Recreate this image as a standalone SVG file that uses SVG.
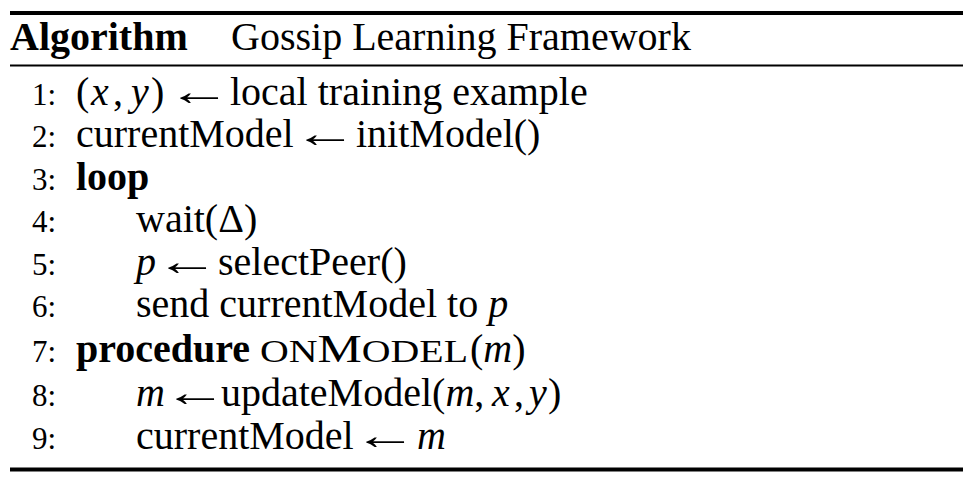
<svg xmlns="http://www.w3.org/2000/svg" width="975" height="481" viewBox="0 0 975 481">
<style>
text { font-family: "Liberation Serif", "Times New Roman", serif; font-size: 40px; fill: #000; }
.num { font-size: 31px; text-anchor: end; }
.b { font-weight: bold; }
.i { font-style: italic; }
.sc { font-size: 32px; }
.arr { font-family: "Liberation Serif", "DejaVu Serif", serif; font-size: 40px; }
.rule { stroke: #000; }
</style>
<rect width="975" height="481" fill="#fff"/>
<g id="rules">
  <line class="rule" x1="10" y1="13" x2="963" y2="13" stroke-width="4"/>
  <line class="rule" x1="10" y1="65.5" x2="963" y2="65.5" stroke-width="2"/>
  <line class="rule" x1="10" y1="469.5" x2="963" y2="469.5" stroke-width="4"/>
</g>
<g id="header">
  <text x="10" y="50" class="b">Algorithm</text>
  <text x="231" y="50">Gossip Learning Framework</text>
</g>
<g id="line1">
  <text class="num" x="56" y="105">1:</text>
  <text x="76" y="105">(<tspan x="91" class="i">x</tspan><tspan x="113">,</tspan><tspan x="131" class="i">y</tspan><tspan x="151">)</tspan></text>
  <text class="arr" transform="translate(167,105) scale(1.6,1)">←</text>
  <text x="230" y="105">local training example</text>
</g>
<g id="line2">
  <text class="num" x="56" y="147">2:</text>
  <text x="76" y="147">currentModel</text>
  <text class="arr" transform="translate(293,147) scale(1.6,1)">←</text>
  <text x="356" y="147">initModel()</text>
</g>
<g id="line3">
  <text class="num" x="56" y="190">3:</text>
  <text x="76" y="190" class="b">loop</text>
</g>
<g id="line4">
  <text class="num" x="56" y="232">4:</text>
  <text x="136" y="232">wait(Δ)</text>
</g>
<g id="line5">
  <text class="num" x="56" y="275">5:</text>
  <text x="136" y="275" class="i">p</text>
  <text class="arr" transform="translate(155,275) scale(1.6,1)">←</text>
  <text x="218" y="275">selectPeer()</text>
</g>
<g id="line6">
  <text class="num" x="56" y="317">6:</text>
  <text x="136" y="317">send currentModel to <tspan class="i">p</tspan></text>
</g>
<g id="line7">
  <text class="num" x="56" y="362">7:</text>
  <text x="76" y="362" class="b">procedure</text>
  <text x="260" y="362" textLength="208" lengthAdjust="spacingAndGlyphs"><tspan class="sc">ON</tspan>M<tspan class="sc">ODEL</tspan></text>
  <text x="470" y="362">(<tspan class="i">m</tspan>)</text>
</g>
<g id="line8">
  <text class="num" x="56" y="406">8:</text>
  <text x="136" y="406" class="i">m</text>
  <text class="arr" transform="translate(163,406) scale(1.6,1)">←</text>
  <text x="221" y="406">updateModel(<tspan class="i">m</tspan>,<tspan x="492" class="i">x</tspan><tspan x="514">,</tspan><tspan x="529" class="i">y</tspan><tspan x="548">)</tspan></text>
</g>
<g id="line9">
  <text class="num" x="56" y="449">9:</text>
  <text x="136" y="449">currentModel</text>
  <text class="arr" transform="translate(353,449) scale(1.6,1)">←</text>
  <text x="417" y="449" class="i">m</text>
</g>
</svg>
